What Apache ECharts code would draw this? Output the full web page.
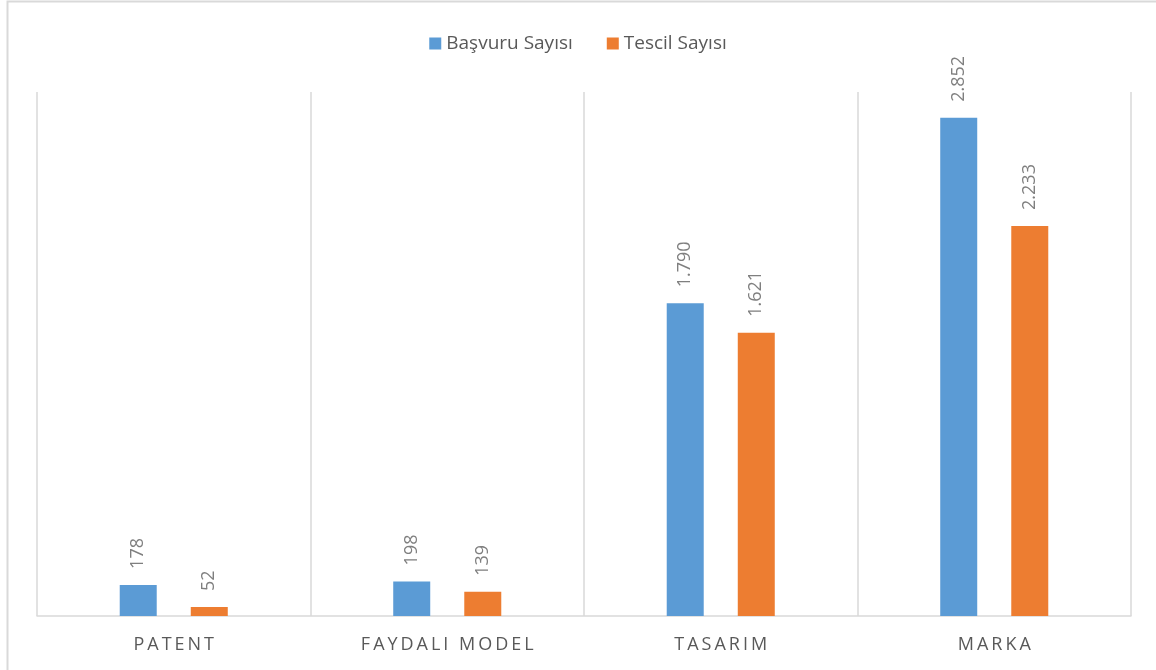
<!DOCTYPE html>
<html>
<head>
<meta charset="utf-8">
<script src="https://cdn.jsdelivr.net/npm/echarts@6/dist/echarts.min.js"></script>
<style>
  html, body { margin: 0; padding: 0; background: #fff; }
  #chart { width: 1156px; height: 670px; }
</style>
</head>
<body>
<div id="chart"></div>
<script>
const categories = ['PATENT', 'FAYDALI MODEL', 'TASARIM', 'MARKA']
const basvuru = [178, 198, 1790, 2852]
const tescil = [52, 139, 1621, 2233]

// Türkçe binlik ayırıcı: 2852 -> 2.852
function fmt(v) {
  return String(v).replace(/\B(?=(\d{3})+(?!\d))/g, '.')
}
function spaced(s) {
  return s.split('').join('\u2009')
}

const chart = echarts.init(document.getElementById('chart'))

const labelStyle = {
  show: true,
  position: 'top',
  rotate: 90,
  align: 'left',
  verticalAlign: 'middle',
  distance: 16,
  color: '#7f7f7f',
  fontSize: 18,
  fontFamily: 'Open Sans',
  formatter: p => fmt(p.value)
}

chart.setOption({
  animation: false,
  color: ['#5b9bd5', '#ed7d31'],
  graphic: [{
    type: 'rect',
    shape: { x: 7.5, y: 1.5, width: 1200, height: 720 },
    style: { fill: 'none', stroke: '#d9d9d9', lineWidth: 2 },
    silent: true
  }],
  legend: {
    top: 29,
    left: 'center',
    itemWidth: 12,
    itemHeight: 12,
    itemGap: 34,
    icon: 'rect',
    textStyle: { color: '#595959', fontSize: 19, fontFamily: 'Open Sans' }
  },
  grid: { left: 37, right: 25, top: 92, bottom: 54 },
  xAxis: {
    type: 'category',
    data: categories,
    axisLine: { lineStyle: { color: '#d9d9d9', width: 1.5 } },
    axisTick: { show: false },
    splitLine: { show: true, lineStyle: { color: '#d9d9d9', width: 1.5 } },
    axisLabel: {
      margin: 20,
      color: '#595959',
      fontSize: 18,
      fontFamily: 'Open Sans',
      formatter: v => spaced(v)
    }
  },
  yAxis: {
    type: 'value',
    min: 0,
    max: 3000,
    show: false,
    splitLine: { show: false }
  },
  series: [
    {
      name: 'Başvuru Sayısı',
      type: 'bar',
      data: basvuru,
      barWidth: 37,
      barGap: '92%',
      label: labelStyle
    },
    {
      name: 'Tescil Sayısı',
      type: 'bar',
      data: tescil,
      barWidth: 37,
      barGap: '92%',
      label: labelStyle
    }
  ]
})
</script>
</body>
</html>
